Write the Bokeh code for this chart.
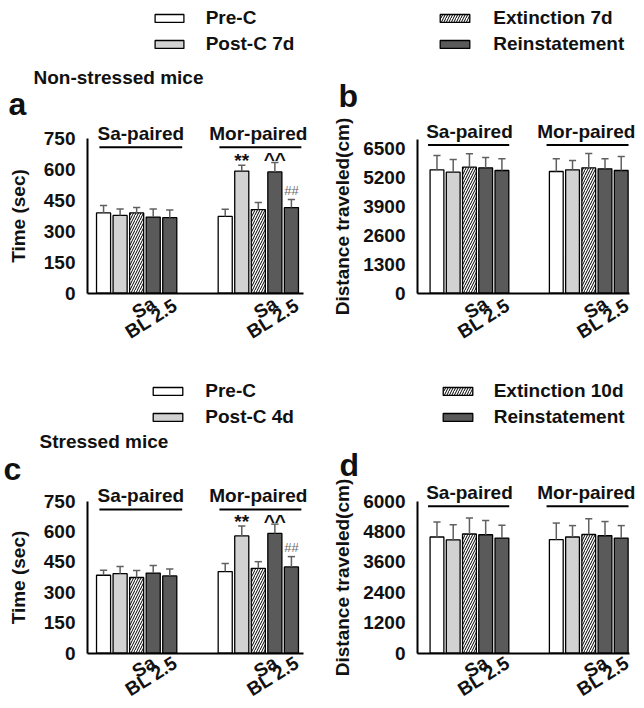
from bokeh.plotting import figure
from bokeh.models import Range1d, Label, Legend, LegendItem, FixedTicker, ColumnDataSource
from bokeh.layouts import row, column
from bokeh.embed import file_html
from bokeh.resources import INLINE

FONT = "Liberation Sans"
INK = "#111111"

# ---------------- data ----------------
conditions = ["Pre-C", "Post-C", "Extinction", "Reinstatement Sa", "Reinstatement BL 2.5"]
group_names = ["Sa-paired", "Mor-paired"]
x_tick_labels = ["Sa", "BL 2.5"]

legend_top = ["Pre-C", "Post-C 7d", "Extinction 7d", "Reinstatement"]
legend_bottom = ["Pre-C", "Post-C 4d", "Extinction 10d", "Reinstatement"]

# panel a: non-stressed, time in paired compartment (sec)
a_sa = [390, 378, 390, 370, 367]
a_sa_err = [36, 31, 26, 39, 37]
a_mor = [373, 593, 406, 589, 416]
a_mor_err = [35, 29, 34, 46, 39]

# panel b: non-stressed, distance traveled (cm)
b_sa = [5530, 5425, 5650, 5620, 5500]
b_sa_err = [640, 570, 600, 460, 525]
b_mor = [5455, 5530, 5620, 5575, 5500]
b_mor_err = [570, 415, 640, 450, 630]

# panel c: stressed, time (sec)
c_sa = [384, 392, 373, 395, 381]
c_sa_err = [25, 35, 35, 37, 34]
c_mor = [402, 578, 418, 590, 425]
c_mor_err = [40, 49, 33, 46, 51]

# panel d: stressed, distance traveled (cm)
d_sa = [4580, 4470, 4700, 4670, 4540]
d_sa_err = [590, 590, 630, 560, 500]
d_mor = [4480, 4580, 4680, 4630, 4540]
d_mor_err = [650, 450, 620, 560, 490]

time_ticks = [0, 150, 300, 450, 600, 750]
dist_ticks_b = [0, 1300, 2600, 3900, 5200, 6500]
dist_ticks_d = [0, 1200, 2400, 3600, 4800, 6000]

# significance marks above the Mor-paired bars (time panels)
marks = ["", "**", "", "^^", "##"]

# ---------------- styles ----------------
fills = ["white", "#d2d2d2", "white", "#5a5a5a", "#5a5a5a"]
hatches = [None, None, "/", None, None]
ERR = "#606060"
group_offsets = [0, 7.35]
BAR_W = 0.85
DXR = -4      # horizontal shift of the right-hand panels (px)
DYB = -5      # vertical shift of the lower row (px)


def make_panel(cfg):
    pl, pt, fw, fh = cfg["rect"]
    ax_px, ax_end_px = cfg["xaxis_px"]
    xa0, xa1 = cfg["xaxis_data"]
    zero_py, ref_py, ref_val = cfg["yscale"]
    y_axis_top = cfg["ytop"]

    xu = (xa1 - xa0) / (ax_end_px - ax_px)
    yu = ref_val / (zero_py - ref_py)

    def X(px):
        return xa0 + (px - ax_px) * xu

    def Y(py):
        return (zero_py - py) * yu

    def PX(x):
        return ax_px + (x - xa0) / xu

    def PY(y):
        return zero_py - y / yu

    def text(x, y, s, size="19px", align="center", angle=0.0, color=INK, style="bold"):
        p.add_layout(Label(x=x, y=y, text=s, text_font=FONT, text_font_size=size,
                           text_font_style=style, text_color=color, text_align=align,
                           text_baseline="middle", angle=angle))

    p = figure(width=fw, height=fh,
               x_range=Range1d(X(pl), X(pl + fw)), y_range=Range1d(Y(pt + fh), Y(pt)),
               output_backend="svg", toolbar_location=None, tools="",
               min_border_left=0, min_border_right=0, min_border_top=0, min_border_bottom=0)
    p.outline_line_color = None
    p.grid.visible = False

    # axes, drawn at fixed data positions inside the frame
    p.xaxis.fixed_location = 0
    p.xaxis.bounds = (xa0, xa1)
    p.xaxis.ticker = FixedTicker(ticks=[])
    p.xaxis.major_tick_line_color = None
    p.xaxis.minor_tick_line_color = None
    p.xaxis.major_label_text_font_size = "0px"
    p.xaxis.axis_line_width = 2
    p.xaxis.axis_line_color = "black"

    p.yaxis.fixed_location = xa0
    p.yaxis.bounds = (0, y_axis_top)
    p.yaxis.ticker = FixedTicker(ticks=cfg["yticks"])
    p.yaxis.major_tick_line_color = None
    p.yaxis.minor_tick_line_color = None
    p.yaxis.major_tick_out = 0
    p.yaxis.major_tick_in = 0
    p.yaxis.axis_line_width = 2
    p.yaxis.axis_line_color = "black"
    p.yaxis.major_label_text_font = FONT
    p.yaxis.major_label_text_font_size = "19px"
    p.yaxis.major_label_text_font_style = "bold"
    p.yaxis.major_label_text_color = INK
    p.yaxis.major_label_standoff = 12
    p.yaxis.axis_label = cfg["ylabel"]
    p.yaxis.axis_label_text_font = FONT
    p.yaxis.axis_label_text_font_size = "19px"
    p.yaxis.axis_label_text_font_style = "bold"
    p.yaxis.axis_label_text_color = INK
    p.yaxis.axis_label_standoff = cfg["als"]

    sa, sa_err, mor, mor_err = cfg["data"]

    # bars
    renderers = []
    for i in range(5):
        src = ColumnDataSource(dict(x=[group_offsets[0] + i, group_offsets[1] + i],
                                    top=[sa[i], mor[i]]))
        kw = dict(fill_color=fills[i], line_color="black", line_width=1.3)
        if hatches[i]:
            kw.update(hatch_pattern=hatches[i], hatch_color="black", hatch_scale=5,
                      hatch_weight=1)
        renderers.append(p.vbar(x="x", top="top", width=BAR_W, source=src, **kw))

    # error bars (upper only)
    xs = [g + i for g in group_offsets for i in range(5)]
    vals = sa + mor
    errs = sa_err + mor_err
    hi = [v + e for v, e in zip(vals, errs)]
    p.segment(x0=xs, y0=vals, x1=xs, y1=hi, line_color=ERR, line_width=1.5)
    cap = 0.22
    p.segment(x0=[x - cap for x in xs], y0=hi, x1=[x + cap for x in xs], y1=hi,
              line_color=ERR, line_width=1.5)

    # significance marks over Mor-paired bars
    if cfg["marks"]:
        for i, m in enumerate(marks):
            if not m:
                continue
            xm = group_offsets[1] + i
            top_py = PY(mor[i] + mor_err[i])
            if m == "##":
                text(xm, Y(top_py - 9), m, size="13px", color="#6a6a6a", style="normal")
            elif m == "**":
                text(xm, Y(top_py - 4.5), m)
            else:
                text(xm, Y(top_py - 2.6), m)

    # group headers with underline
    axis_top_py = PY(y_axis_top)
    hdr_dy, line_dy = cfg["hdr"]
    for gname, cx, (lx0, lx1) in zip(group_names, cfg["gcx"], cfg["glines"]):
        text(cx, Y(axis_top_py + hdr_dy), gname)
        p.segment(x0=[lx0], y0=[Y(axis_top_py + line_dy)], x1=[lx1],
                  y1=[Y(axis_top_py + line_dy)], line_color="black", line_width=2)

    # rotated category labels under the reinstatement bars
    sa_dy, bl_dy = cfg["xlab_dy"]
    for g in group_offsets:
        bx = PX(g + 3)
        text(X(bx - 9.5), Y(zero_py + sa_dy), x_tick_labels[0], angle=0.56)
        text(X(bx - 2), Y(zero_py + bl_dy), x_tick_labels[1], angle=0.56)

    # legend
    lg = cfg["legend"]
    items = [LegendItem(label=lg["labels"][k], renderers=[renderers[k]]) for k in lg["idx"]]
    leg_h = 2 * 22 + 4
    leg = Legend(items=items,
                 location=(lg["glyph_left"] - pl, (pt + fh) - (lg["top"] + leg_h)),
                 orientation="vertical", padding=0, margin=0, spacing=4, label_height=22,
                 glyph_height=10, glyph_width=lg["gw"], label_standoff=lg["so"],
                 border_line_color=None, background_fill_alpha=0,
                 label_text_font=FONT, label_text_font_size="19px",
                 label_text_font_style="bold", label_text_color=INK)
    p.add_layout(leg)

    # panel letter and title
    lx, ly = cfg["letter_pos"]
    text(X(lx), Y(ly), cfg["letter"], size="32px", align="left")
    if cfg.get("title"):
        tx, ty = cfg["title_pos"]
        text(X(tx), Y(ty), cfg["title"], align="left")
    return p


time_geom = dict(xaxis_px=(87, 303), xaxis_data=(-0.97, 12.08), gcx=[2.25, 9.35],
                 glines=[(-0.25, 4.75), (7.0, 11.95)], yticks=time_ticks,
                 ylabel="Time (sec)", als=12, marks=True, hdr=(-5.5, 8.5))
dist_geom = dict(xaxis_px=(421 + DXR, 633 + DXR), xaxis_data=(-1.2, 11.86), gcx=[2.0, 9.2],
                 glines=[(-0.55, 4.45), (6.75, 11.8)], ylabel="Distance traveled(cm)",
                 als=7, marks=False, hdr=(-8.3, 5.3))

cfg_a = dict(time_geom, rect=(0, 0, 330, 350), yscale=(292.7, 138.3, 750), ytop=750,
             data=(a_sa, a_sa_err, a_mor, a_mor_err), xlab_dy=(14.5, 25.5),
             legend=dict(labels=legend_top, idx=[0, 1], glyph_left=150.7, gw=36, so=19, top=7.3),
             letter="a", letter_pos=(8, 103.8), title="Non-stressed mice", title_pos=(33, 77.3))
cfg_b = dict(dist_geom, rect=(330, 0, 306, 350), yscale=(292.7, 147.7, 6500), ytop=6880,
             yticks=dist_ticks_b, data=(b_sa, b_sa_err, b_mor, b_mor_err), xlab_dy=(14.5, 25.5),
             legend=dict(labels=legend_top, idx=[2, 3], glyph_left=440.3 + DXR, gw=37, so=20,
                         top=7.3),
             letter="b", letter_pos=(342 + DXR, 95.5))
cfg_c = dict(time_geom, rect=(0, 350, 330, 350),
             yscale=(657.7 + DYB, 505.5 + DYB, 750), ytop=750,
             data=(c_sa, c_sa_err, c_mor, c_mor_err), xlab_dy=(13.5, 23),
             legend=dict(labels=legend_bottom, idx=[0, 1], glyph_left=149.3, gw=37, so=19,
                         top=385 + DYB),
             letter="c", letter_pos=(3, 473.8 + DYB), title="Stressed mice",
             title_pos=(39, 445.8 + DYB))
cfg_d = dict(dist_geom, rect=(330, 350, 306, 350),
             yscale=(657.7 + DYB, 505.5 + DYB, 6000), ytop=6000,
             yticks=dist_ticks_d, data=(d_sa, d_sa_err, d_mor, d_mor_err), xlab_dy=(13.5, 23),
             legend=dict(labels=legend_bottom, idx=[2, 3], glyph_left=442.7 + DXR, gw=37, so=18,
                         top=385 + DYB),
             letter="d", letter_pos=(343 + DXR, 469.8 + DYB))

pa, pb, pc, pd = (make_panel(c) for c in (cfg_a, cfg_b, cfg_c, cfg_d))
layout = column(row(pa, pb), row(pc, pd))

open("out.html", "w").write(file_html(layout, INLINE))
